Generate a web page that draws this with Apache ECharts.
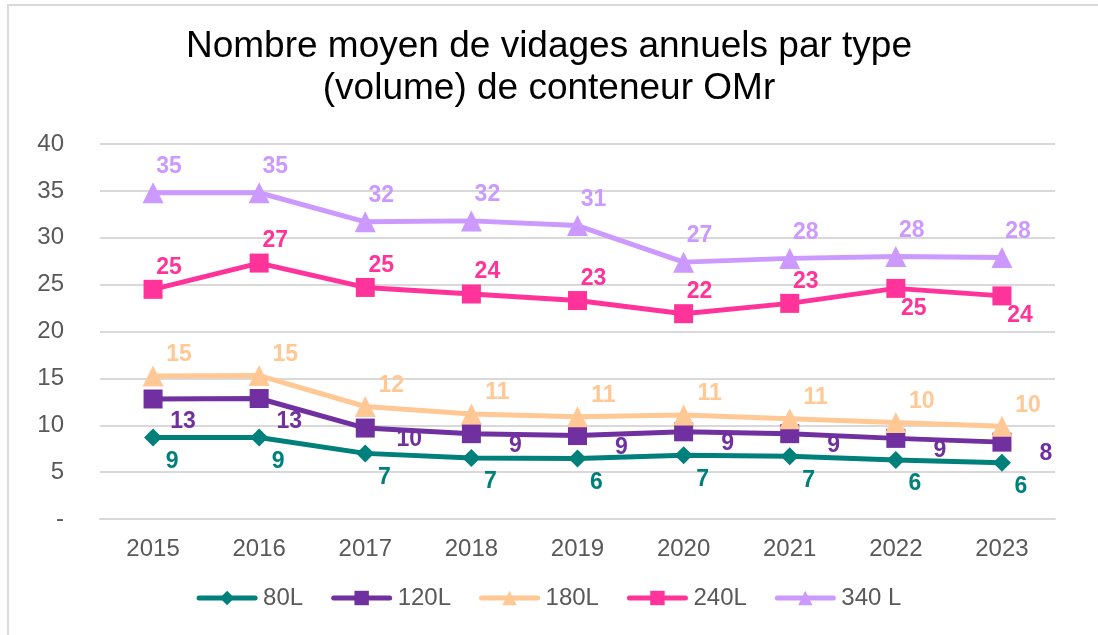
<!DOCTYPE html>
<html>
<head>
<meta charset="utf-8">
<script src="https://cdn.jsdelivr.net/npm/echarts@6/dist/echarts.min.js"></script>
<style>
  html, body { margin: 0; padding: 0; background: #fff; }
  #main { width: 1098px; height: 635px; }
</style>
</head>
<body>
<div id="main"></div>
<script>
// années
var years = ['2015', '2016', '2017', '2018', '2019', '2020', '2021', '2022', '2023'];
// nombre moyen de vidages par volume de conteneur
var v80 = [8.7, 8.7, 7.0, 6.5, 6.45, 6.8, 6.7, 6.3, 6.0];
var v120 = [12.8, 12.85, 9.7, 9.1, 8.9, 9.3, 9.1, 8.6, 8.2];
var v180 = [15.25, 15.3, 12.0, 11.2, 10.9, 11.1, 10.7, 10.3, 9.9];
var v240 = [24.5, 27.3, 24.7, 24.0, 23.3, 21.9, 23.0, 24.6, 23.8];
var v340 = [34.8, 34.8, 31.7, 31.8, 31.3, 27.4, 27.8, 28.0, 27.9];
var names = ['80L', '120L', '180L', '240L', '340 L'];

var fontFam = '"Liberation Sans", Arial, sans-serif';

function makeSerie(name, data, color, symbol, size, offset) {
  return {
    name: name,
    type: 'line',
    data: data,
    symbol: symbol,
    symbolSize: size,
    showAllSymbol: true,
    lineStyle: { color: color, width: 5 },
    itemStyle: { color: color },
    label: {
      show: true,
      position: 'inside',
      offset: offset,
      color: color,
      fontFamily: fontFam,
      fontWeight: 'bold',
      fontSize: 23,
      formatter: function (p) { return Math.round(p.value); }
    },
    emphasis: { disabled: true },
    animation: false
  };
}

var series = [
  makeSerie(names[0], v80, '#00807A', 'diamond', 18, [19, 24]),
  makeSerie(names[1], v120, '#7030A0', 'rect', 19, [44, 12]),
  makeSerie(names[2], v180, '#FFC894', 'triangle', 21, [26, -21]),
  makeSerie(names[3], v240, '#FF3399', 'rect', 19, [16, -22]),
  makeSerie(names[4], v340, '#CC99FF', 'triangle', 21, [16, -26])
];
// étiquettes 120L 2015-2016 un peu plus bas
series[1].data = v120.map(function (v, i) {
  return i < 2 ? { value: v, label: { offset: [30, 23] } } : v;
});
// étiquettes 240L 2022-2023 sous la courbe
series[3].data = v240.map(function (v, i) {
  return i >= 7 ? { value: v, label: { offset: [18, 20] } } : v;
});

var chart = echarts.init(document.getElementById('main'));
chart.setOption({
  backgroundColor: '#fff',
  title: {
    text: 'Nombre moyen de vidages annuels par type\n(volume) de conteneur OMr',
    left: 'center',
    top: 21,
    textStyle: {
      fontFamily: fontFam,
      fontWeight: 'normal',
      fontSize: 37,
      lineHeight: 42,
      color: '#000'
    }
  },
  graphic: [{
    type: 'rect',
    shape: { x: 8, y: 5, width: 1200, height: 700 },
    style: { fill: 'none', stroke: '#d9d9d9', lineWidth: 2 },
    silent: true
  }],
  legend: {
    bottom: 20,
    left: 'center',
    itemWidth: 56,
    itemHeight: 18,
    itemGap: 28,
    lineStyle: { width: 5, cap: 'round' },
    textStyle: { fontFamily: fontFam, fontSize: 24, color: '#595959', padding: [0, 0, 0, 3] },
    data: names
  },
  grid: { left: 100, right: 43, top: 144, bottom: 116 },
  xAxis: {
    type: 'category',
    data: years,
    boundaryGap: true,
    axisLine: { show: true, lineStyle: { color: '#d9d9d9', width: 2 } },
    axisTick: { show: false },
    axisLabel: { fontFamily: fontFam, fontSize: 24, color: '#595959', margin: 18 }
  },
  yAxis: {
    type: 'value',
    min: 0,
    max: 40,
    interval: 5,
    axisLine: { show: false },
    axisTick: { show: false },
    splitLine: { lineStyle: { color: '#d9d9d9', width: 2 } },
    axisLabel: {
      fontFamily: fontFam,
      fontSize: 24,
      color: '#595959',
      margin: 36,
      formatter: function (v) { return v === 0 ? '-' : v; }
    }
  },
  series: series
});
</script>
</body>
</html>
